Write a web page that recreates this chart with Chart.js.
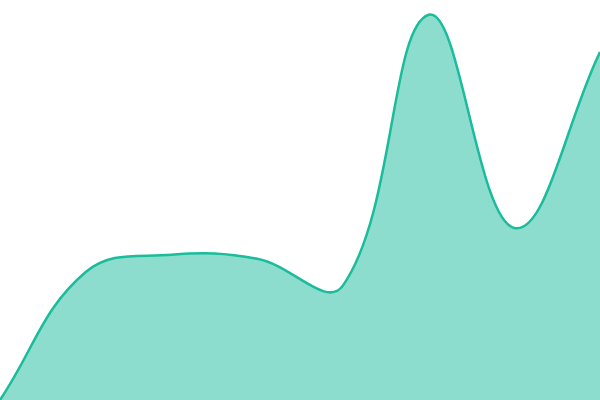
<!DOCTYPE html>
<html>
<head>
<meta charset="utf-8">
<script src="https://cdn.jsdelivr.net/npm/chart.js@4"></script>
<style>
  html, body { margin: 0; padding: 0; background: #fff; }
  #wrap { width: 600px; height: 400px; }
</style>
</head>
<body>
<div id="wrap"><canvas id="chart" width="600" height="400"></canvas></div>
<script>
// Data
const labels = ["1", "2", "3", "4", "5", "6", "7", "8"];
const values = [0, 32, 36.3, 35.3, 28.6, 96.3, 43, 87];

const ctx = document.getElementById("chart").getContext("2d");

new Chart(ctx, {
  type: "line",
  data: {
    labels: labels,
    datasets: [
      {
        data: values,
        fill: "origin",
        backgroundColor: "rgba(26, 188, 156, 0.5)",
        borderColor: "#1abc9c",
        borderWidth: 2.5,
        tension: 0.4,
        pointRadius: 0,
      },
    ],
  },
  options: {
    responsive: false,
    animation: false,
    layout: { padding: 0 },
    plugins: {
      legend: { display: false },
      tooltip: { enabled: false },
    },
    scales: {
      x: { display: false, offset: false },
      y: { display: false, min: 0, max: 100 },
    },
  },
});
</script>
</body>
</html>
